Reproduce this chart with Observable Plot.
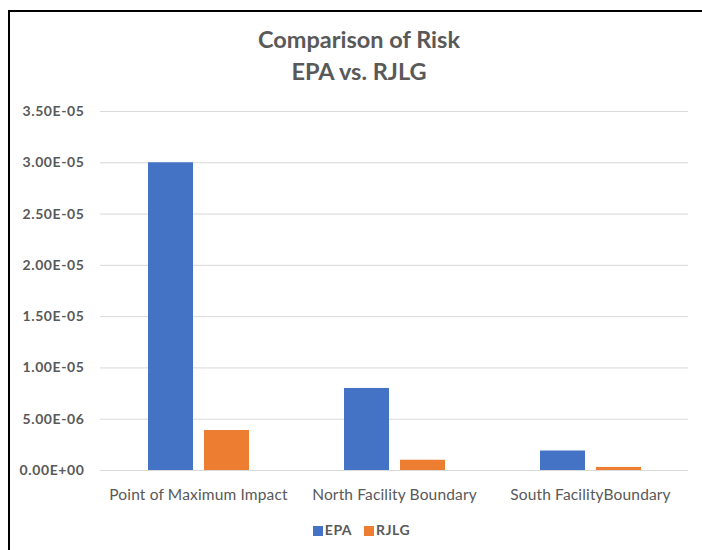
<!DOCTYPE html>
<html>
<head>
<meta charset="utf-8">
<script src="https://cdn.jsdelivr.net/npm/d3@7"></script>
<script src="https://cdn.jsdelivr.net/npm/@observablehq/plot@0.6"></script>
<style>
  html, body { margin: 0; padding: 0; background: #fff; }
  #wrap { position: relative; width: 702px; height: 550px; overflow: hidden; font-family: Lato, "Open Sans", sans-serif; }
  #frame { position: absolute; left: 8px; top: 10px; width: 900px; height: 900px; border: 2px solid #000; box-sizing: border-box; }
  #title { position: absolute; left: 0; width: 718px; top: 23px; text-align: center; color: #595959; font-weight: bold; font-size: 23.5px; line-height: 32px; }
  #chart { position: absolute; left: 0; top: 95px; }
  #chart g[aria-label="y-axis tick label"] text { letter-spacing: 0.6px; }
  #chart g[aria-label="fx-axis tick label"] text { letter-spacing: 0.15px; }
  #legend { position: absolute; left: 0; width: 723px; top: 520px; text-align: center; color: #595959; font-weight: bold; font-size: 14px; letter-spacing: 0.5px; line-height: 20px; }
  #legend span.sw { display: inline-block; width: 10px; height: 10px; margin-right: 2px; vertical-align: -0.5px; }
  #legend span.item { margin: 0 6px; }
</style>
</head>
<body>
<div id="wrap">
  <div id="frame"></div>
  <div id="title">Comparison of Risk<br>EPA vs. RJLG</div>
  <div id="chart"></div>
  <div id="legend"></div>
</div>
<script>
const categories = ["Point of Maximum Impact", "North Facility Boundary", "South FacilityBoundary"];
const series = ["EPA", "RJLG"];
const epaValues = [3.0e-5, 8.0e-6, 1.9e-6];
const rjlgValues = [3.9e-6, 1.0e-6, 3.0e-7];
const colors = ["#4472C4", "#ED7D31"];
const yTicks = [0, 5e-6, 1e-5, 1.5e-5, 2e-5, 2.5e-5, 3e-5, 3.5e-5];
const yTickLabels = ["0.00E+00", "5.00E-06", "1.00E-05", "1.50E-05", "2.00E-05", "2.50E-05", "3.00E-05", "3.50E-05"];

const data = [];
categories.forEach((c, i) => {
  data.push({category: c, series: "EPA", value: epaValues[i]});
  data.push({category: c, series: "RJLG", value: rjlgValues[i]});
});

const chart = Plot.plot({
  width: 702,
  height: 415,
  marginTop: 16,
  marginBottom: 40,
  marginLeft: 99,
  marginRight: 14,
  style: {fontFamily: "Lato, 'Open Sans', sans-serif", color: "#595959", background: "transparent"},
  fx: {domain: categories, padding: 0, label: null},
  x: {domain: series, paddingInner: 0.2, paddingOuter: 0.85, axis: null},
  y: {domain: [0, 3.5e-5], label: null},
  color: {domain: series, range: colors},
  marks: [
    Plot.ruleY(yTicks, {stroke: "#d9d9d9", strokeWidth: 1}),
    Plot.axisY({
      ticks: yTicks, tickSize: 0, tickPadding: 16,
      tickFormat: (d) => yTickLabels[yTicks.indexOf(d)],
      fontSize: 14, fontWeight: "bold", fill: "#595959", label: null
    }),
    Plot.axisFx({anchor: "bottom", tickSize: 0, tickPadding: 18, fontSize: 15.5, fill: "#595959", label: null}),
    Plot.barY(data, {fx: "category", x: "series", y: "value", fill: "series"})
  ]
});
document.getElementById("chart").appendChild(chart);

const legend = document.getElementById("legend");
series.forEach((s, i) => {
  const item = document.createElement("span");
  item.className = "item";
  const sw = document.createElement("span");
  sw.className = "sw";
  sw.style.background = colors[i];
  item.appendChild(sw);
  item.appendChild(document.createTextNode(s));
  legend.appendChild(item);
});
</script>
</body>
</html>
